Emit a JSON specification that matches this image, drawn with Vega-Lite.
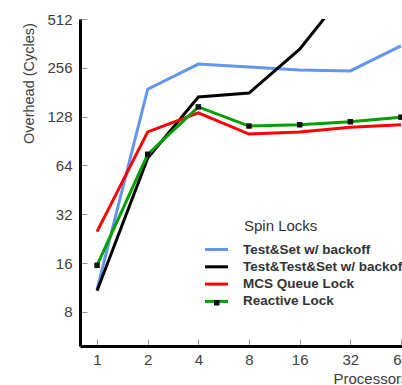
{
  "$schema": "https://vega.github.io/schema/vega-lite/v6.json",
  "autosize": {"type": "none"},
  "width": 322,
  "height": 327,
  "padding": {"left": 80, "top": 19, "right": 0, "bottom": 39},
  "background": "white",
  "config": {
    "view": {"stroke": null},
    "font": "Liberation Sans",
    "axis": {
      "grid": false,
      "domainColor": "#000000",
      "domainWidth": 3,
      "tickColor": "#999999",
      "tickWidth": 1,
      "tickSize": -7,
      "labelFont": "Liberation Sans",
      "labelFontSize": 15,
      "labelColor": "#404040",
      "titleFont": "Liberation Sans",
      "titleFontWeight": "normal",
      "titleColor": "#404040"
    },
    "legend": {
      "labelFont": "Liberation Sans",
      "titleFont": "Liberation Sans"
    }
  },
  "data": {
    "values": [
      {"p": 1, "v": 11, "s": "Test&Set w/ backoff"},
      {"p": 2, "v": 189, "s": "Test&Set w/ backoff"},
      {"p": 4, "v": 270, "s": "Test&Set w/ backoff"},
      {"p": 8, "v": 259, "s": "Test&Set w/ backoff"},
      {"p": 16, "v": 248, "s": "Test&Set w/ backoff"},
      {"p": 32, "v": 245, "s": "Test&Set w/ backoff"},
      {"p": 64, "v": 350, "s": "Test&Set w/ backoff"},
      {"p": 1, "v": 10.8, "s": "Test&Test&Set w/ backoff"},
      {"p": 2, "v": 71, "s": "Test&Test&Set w/ backoff"},
      {"p": 4, "v": 169, "s": "Test&Test&Set w/ backoff"},
      {"p": 8, "v": 179, "s": "Test&Test&Set w/ backoff"},
      {"p": 16, "v": 334, "s": "Test&Test&Set w/ backoff"},
      {"p": 32, "v": 820, "s": "Test&Test&Set w/ backoff"},
      {"p": 1, "v": 25, "s": "MCS Queue Lock"},
      {"p": 2, "v": 103, "s": "MCS Queue Lock"},
      {"p": 4, "v": 135, "s": "MCS Queue Lock"},
      {"p": 8, "v": 100, "s": "MCS Queue Lock"},
      {"p": 16, "v": 103, "s": "MCS Queue Lock"},
      {"p": 32, "v": 110, "s": "MCS Queue Lock"},
      {"p": 64, "v": 114, "s": "MCS Queue Lock"},
      {"p": 1, "v": 15.5, "s": "Reactive Lock"},
      {"p": 2, "v": 75, "s": "Reactive Lock"},
      {"p": 4, "v": 147, "s": "Reactive Lock"},
      {"p": 8, "v": 112, "s": "Reactive Lock"},
      {"p": 16, "v": 114, "s": "Reactive Lock"},
      {"p": 32, "v": 119, "s": "Reactive Lock"},
      {"p": 64, "v": 127, "s": "Reactive Lock"}
    ]
  },
  "layer": [
    {
      "mark": {"type": "line", "strokeWidth": 3, "clip": true},
      "encoding": {
        "x": {
          "field": "p", "type": "quantitative",
          "scale": {"type": "log", "base": 2, "domain": [0.792, 64.9], "nice": false},
          "axis": {
            "values": [1, 2, 4, 8, 16, 32, 64],
            "labelPadding": 13,
            "title": "Processors",
            "titleFontSize": 15,
            "titleAlign": "left",
            "titleBaseline": "alphabetic",
            "titleX": 253,
            "titleY": 37
          }
        },
        "y": {
          "field": "v", "type": "quantitative",
          "scale": {"type": "log", "base": 2, "domain": [4.93, 512], "nice": false},
          "axis": {
            "values": [8, 16, 32, 64, 128, 256, 512],
            "labelPadding": 15,
            "title": "Overhead (Cycles)",
            "titleFontSize": 14.5,
            "titleAlign": "center",
            "titleBaseline": "alphabetic",
            "titleAngle": -90,
            "titleX": -47,
            "titleY": 64
          }
        },
        "color": {
          "field": "s", "type": "nominal",
          "scale": {
            "domain": ["Test&Set w/ backoff", "Test&Test&Set w/ backoff", "MCS Queue Lock", "Reactive Lock"],
            "range": ["#6495ED", "#000000", "#FF0000", "#00A000"]
          },
          "sort": null,
          "legend": {
            "title": "Spin Locks",
            "orient": "none",
            "legendX": 164,
            "legendY": 200,
            "padding": 0,
            "titleFontSize": 15,
            "titleFontWeight": "normal",
            "titleColor": "#333333",
            "titlePadding": 8,
            "labelFontSize": 13.5,
            "labelFontWeight": "bold",
            "labelColor": "#333333",
            "labelLimit": 0,
            "symbolType": "M-2,0H2",
            "symbolSize": 132,
            "symbolStrokeWidth": 3,
            "symbolOffset": -35,
            "labelOffset": 19,
            "rowPadding": 3.3
          }
        }
      }
    },
    {
      "transform": [{"filter": "datum.s === 'Reactive Lock'"}],
      "mark": {"type": "point", "shape": "square", "filled": true, "size": 30, "color": "#111111", "opacity": 1},
      "encoding": {
        "x": {"field": "p", "type": "quantitative"},
        "y": {"field": "v", "type": "quantitative"},
        "shape": {
          "field": "s", "type": "nominal",
          "scale": {"domain": ["Reactive Lock"], "range": ["square"]},
          "legend": {
            "title": null,
            "orient": "none",
            "legendX": 130,
            "legendY": 277,
            "padding": 0,
            "labelFontSize": 13.5,
            "labelOpacity": 0,
            "symbolSize": 30,
            "symbolFillColor": "#111111",
            "symbolStrokeWidth": 0,
            "symbolOpacity": 1
          }
        }
      }
    }
  ]
}
